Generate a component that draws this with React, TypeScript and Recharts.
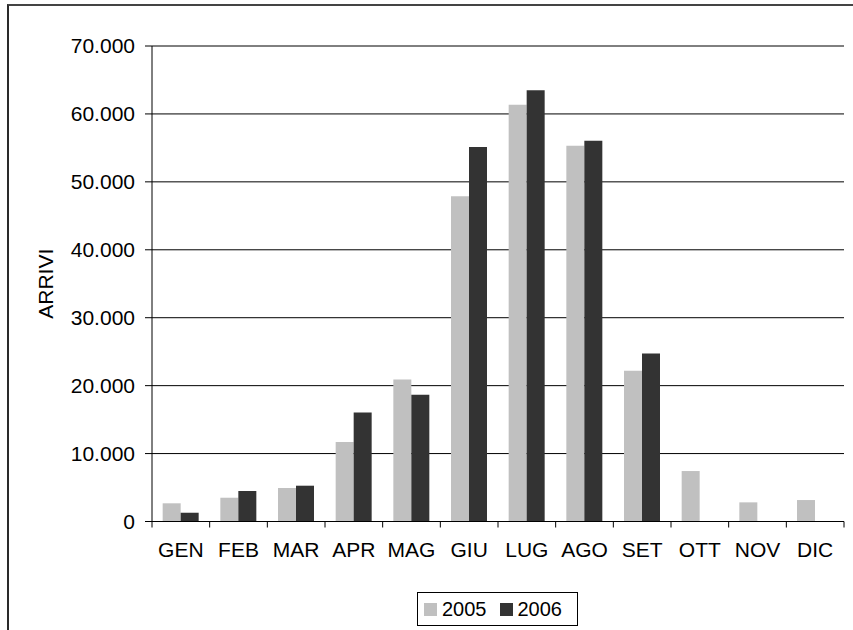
import React from 'react';
import { BarChart, Bar, XAxis, YAxis, CartesianGrid } from 'recharts';

const months = ['GEN', 'FEB', 'MAR', 'APR', 'MAG', 'GIU', 'LUG', 'AGO', 'SET', 'OTT', 'NOV', 'DIC'];
const arrivi2005 = [2680, 3500, 4930, 11690, 20900, 47870, 61350, 55320, 22180, 7430, 2820, 3160];
const arrivi2006: (number | null)[] = [1290, 4490, 5270, 16050, 18650, 55120, 63500, 56060, 24730, null, null, null];
const yTicks = [0, 10000, 20000, 30000, 40000, 50000, 60000, 70000];
const seriesNames = ['2005', '2006'];
const seriesColors = ['#C0C0C0', '#333333'];

const data = months.map((m, i) => ({ month: m, a2005: arrivi2005[i], a2006: arrivi2006[i] }));

const FONT = '"Liberation Sans", Arial, sans-serif';
const AXIS_FS = 21;

const fmtIt = (v: number) => {
  const s = String(Math.round(v));
  return s.replace(/\B(?=(\d{3})+(?!\d))/g, '.');
};

const XTick = (props: any) => {
  const { x, y, payload, index } = props;
  const off = payload && payload.offset ? payload.offset : 0;
  const axisY = y - 8;
  const last = index === months.length - 1;
  return (
    <g>
      <line x1={x - off} x2={x - off} y1={axisY} y2={axisY + 6} stroke="#000" strokeWidth={1} />
      {last && <line x1={x + off} x2={x + off} y1={axisY} y2={axisY + 6} stroke="#000" strokeWidth={1} />}
      <text x={x} y={axisY + 35.5} textAnchor="middle" fontSize={AXIS_FS} fontFamily={FONT} fill="#000">
        {payload.value}
      </text>
    </g>
  );
};

const YLabel = (props: any) => {
  const vb = props.viewBox || {};
  const cy = (vb.y ?? 0) + (vb.height ?? 0) / 2;
  const cx = 37.5;
  return (
    <text
      x={cx}
      y={cy}
      transform={`rotate(-90 ${cx} ${cy})`}
      textAnchor="middle"
      dominantBaseline="central"
      fontSize={AXIS_FS}
      fontFamily={FONT}
      fill="#000"
    >
      ARRIVI
    </text>
  );
};

export default function App() {
  return (
    <div style={{ position: 'absolute', left: 8, top: 6, width: 845, height: 624, overflow: 'visible', fontFamily: FONT }}>
      <div
        style={{
          position: 'absolute',
          left: -1,
          top: -2,
          width: 846,
          height: 626,
          borderLeft: '2px solid #2a2a2a',
          borderTop: '2px solid #444',
          boxSizing: 'border-box',
          pointerEvents: 'none',
        }}
      />
      <div style={{ position: 'absolute', left: 0, top: 0 }}>
        <BarChart
          width={845}
          height={624}
          data={data}
          margin={{ top: 40, right: 9, bottom: 68.5, left: 0 }}
          barCategoryGap="18.5%"
          barGap={0}
        >
          <CartesianGrid horizontal={true} vertical={false} stroke="#000" strokeWidth={1} />
          <XAxis
            dataKey="month"
            height={40}
            tickLine={false}
            tickSize={6}
            tickMargin={2}
            axisLine={{ stroke: '#000', strokeWidth: 1 }}
            tick={<XTick />}
            interval={0}
          />
          <YAxis
            width={144}
            domain={[0, 70000]}
            ticks={yTicks}
            tickFormatter={fmtIt}
            tickSize={7}
            tickMargin={10}
            tickLine={{ stroke: '#000' }}
            axisLine={{ stroke: '#000', strokeWidth: 1 }}
            tick={{ fontSize: AXIS_FS, fontFamily: FONT, fill: '#000' }}
            label={<YLabel />}
          />
          <Bar dataKey="a2005" name={seriesNames[0]} fill={seriesColors[0]} isAnimationActive={false} />
          <Bar dataKey="a2006" name={seriesNames[1]} fill={seriesColors[1]} isAnimationActive={false} />
        </BarChart>
      </div>
      <div
        style={{
          position: 'absolute',
          left: 409,
          top: 586,
          width: 161,
          height: 34,
          boxSizing: 'border-box',
          border: '1px solid #000',
          display: 'flex',
          alignItems: 'center',
          paddingLeft: 6,
          fontSize: 20,
          color: '#000',
          lineHeight: '20px',
        }}
      >
        <span style={{ display: 'inline-block', width: 13, height: 13, background: seriesColors[0], marginRight: 5 }} />
        <span style={{ marginRight: 13 }}>{seriesNames[0]}</span>
        <span style={{ display: 'inline-block', width: 13, height: 13, background: seriesColors[1], marginRight: 5 }} />
        <span>{seriesNames[1]}</span>
      </div>
    </div>
  );
}
